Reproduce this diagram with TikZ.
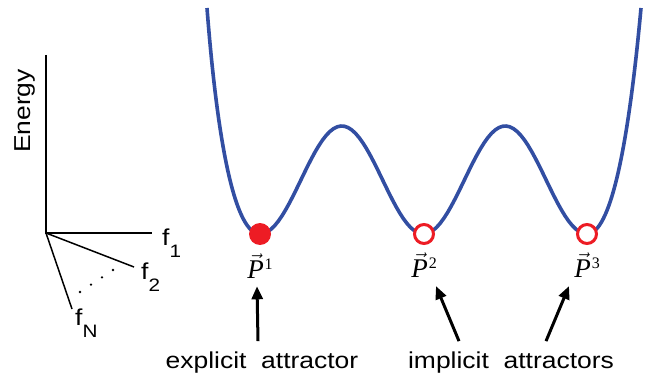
\documentclass[tikz,border=0pt]{standalone}
\usepackage{fontspec}
\newfontfamily\lblfont[FakeStretch=1.15]{Liberation Sans}
\newfontfamily\pfont{Liberation Serif}
\usetikzlibrary{arrows.meta,positioning,calc}
\definecolor{well}{RGB}{50,78,162}
\definecolor{attr}{RGB}{237,28,36}
\newcommand{\fsub}[1]{f\raisebox{-12pt}{\fontsize{18}{19}\selectfont #1}}
\newcommand{\pvec}[1]{$\vec{\mbox{\pfont\itshape P}}$\kern1pt\raisebox{9pt}{\fontsize{16}{17}\selectfont #1}}
\tikzset{
  axisline/.style={line width=1.5pt},
  landscape/.style={well,line width=3.6pt},
  pointer/.style={line width=3pt,-{Triangle[length=13pt,width=11pt]}},
  txt/.style={font=\lblfont\fontsize{23}{26}\selectfont,inner sep=0pt},
  flbl/.style={font=\lblfont\fontsize{23}{26}\selectfont,inner sep=0pt,anchor=north west},
  plbl/.style={font=\pfont\fontsize{27}{30}\selectfont,inner sep=0pt},
  fullmin/.style={circle,fill=attr,minimum size=22pt,inner sep=0pt},
  openmin/.style={circle,draw=attr,line width=3pt,fill=white,minimum size=19pt,inner sep=0pt},
}

\begin{document}
\begin{tikzpicture}[x=1pt,y=-1pt]
  \useasboundingbox (0,0) rectangle (653,374);
  % axes
  \coordinate (o) at (46,233);
  \coordinate (etop) at (46,55);
  \coordinate (e1) at (152,233);
  \coordinate (e2) at (134,267);
  \coordinate (eN) at (72,309);
  \draw[axisline] (etop) -- (o) -- (e1);
  \draw[axisline] (o) -- (e2);
  \draw[axisline] (o) -- (eN);
  \node[txt,rotate=90] (energy) at (25,111) {Energy};
  \node[flbl] (f1) at ([xshift=10pt,yshift=4pt]e1) {\fsub{1}};
  \node[flbl] (f2) at ([xshift=7pt,yshift=4pt]e2) {\fsub{2}};
  \node[flbl] (fN) at ([xshift=3pt,yshift=0pt]eN) {\fsub{N}};
  \foreach \i in {0,...,3}
    \fill ($(80,292)!{\i/3}!(113,270)$) circle (1.3pt);

  % energy landscape
  \draw[landscape] (207,8) .. controls (218,150) and (236,234) .. (260,234)
    -- plot[domain=260:587,samples=90] (\x,{180+54*cos(2.2018*(\x-260))})
    .. controls (610,234) and (628,150) .. (641,8);
  \node[fullmin] (p1) at (260,234) {};
  \node[openmin] (p2) at (424,234) {};
  \node[openmin] (p3) at (587,234) {};
  \node[plbl,below=8pt of p1] (l1) {\pvec{1}};
  \node[plbl,below=8pt of p2] (l2) {\pvec{2}};
  \node[plbl,below=8pt of p3] (l3) {\pvec{3}};

  \node[txt,anchor=base] (expl) at (262,368) {explicit~ attractor};
  \node[txt,anchor=base] (impl) at (511,368) {implicit~ attractors};
  \draw[pointer] ([xshift=-4pt,yshift=10pt]expl.north) -- ([xshift=-3pt,yshift=-8pt]l1.south);
  \draw[pointer] ([xshift=-52pt,yshift=10pt]impl.north) -- ([xshift=12pt,yshift=-8pt]l2.south);
  \draw[pointer] ([xshift=35pt,yshift=10pt]impl.north) -- ([xshift=-18pt,yshift=-8pt]l3.south);
\end{tikzpicture}
\end{document}
